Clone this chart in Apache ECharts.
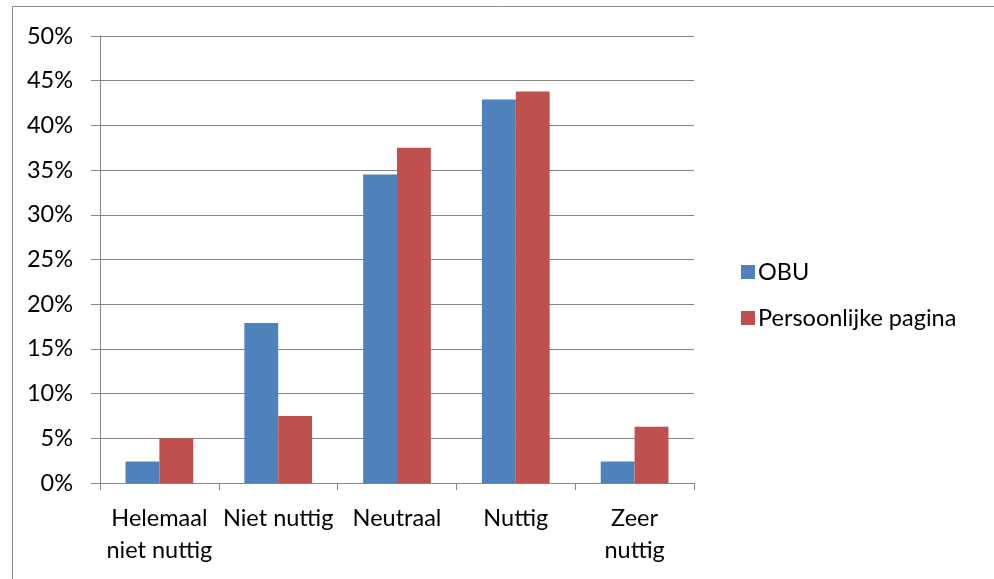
<!DOCTYPE html>
<html>
<head>
<meta charset="utf-8">
<script src="https://cdn.jsdelivr.net/npm/echarts@6/dist/echarts.min.js"></script>
<style>
  html, body { margin: 0; padding: 0; background: #ffffff; }
  #chart { width: 994px; height: 579px; }
</style>
</head>
<body>
<div id="chart"></div>
<script>
// Answer categories (x axis)
const categories = ['Helemaal\nniet nuttig', 'Niet nuttig', 'Neutraal', 'Nuttig', 'Zeer\nnuttig'];
// Share of respondents per answer, in percent
const obuValues = [2.4, 17.9, 34.5, 42.9, 2.4];
const persoonlijkeValues = [5.0, 7.5, 37.5, 43.8, 6.3];
const seriesNames = ['OBU', 'Persoonlijke pagina'];
// Y axis range and step (percent)
const yMin = 0;
const yMax = 50;
const yStep = 5;

const FONT = 'Lato';
const FONT_SIZE = 23.5;
const AXIS_GREY = '#858585';

const chart = echarts.init(document.getElementById('chart'), null, { renderer: 'canvas' });

chart.setOption({
  animation: false,
  backgroundColor: '#ffffff',
  textStyle: { fontFamily: FONT },
  grid: { left: 100, right: 300, top: 36, bottom: 96, containLabel: false },
  legend: {
    orient: 'vertical',
    left: 736,
    top: 255,
    itemWidth: 14,
    itemHeight: 14,
    itemGap: 22,
    icon: 'rect',
    textStyle: { fontFamily: FONT, fontSize: FONT_SIZE, color: '#000000', padding: [0, 0, 0, -2] },
    data: seriesNames
  },
  xAxis: {
    type: 'category',
    data: categories,
    axisLine: { lineStyle: { color: AXIS_GREY, width: 1 } },
    axisTick: { show: true, length: 7, lineStyle: { color: AXIS_GREY } },
    axisLabel: {
      interval: 0,
      margin: 19,
      fontFamily: FONT,
      fontSize: FONT_SIZE,
      lineHeight: 32,
      color: '#000000'
    }
  },
  yAxis: {
    type: 'value',
    min: yMin,
    max: yMax,
    interval: yStep,
    axisLine: { show: true, lineStyle: { color: AXIS_GREY, width: 1 } },
    axisTick: { show: true, length: 9, lineStyle: { color: AXIS_GREY } },
    splitLine: { show: true, lineStyle: { color: AXIS_GREY, width: 1 } },
    axisLabel: {
      margin: 27,
      fontFamily: FONT,
      fontSize: FONT_SIZE,
      color: '#000000',
      formatter: v => v + '%'
    }
  },
  series: [
    {
      name: seriesNames[0],
      type: 'bar',
      data: obuValues,
      barGap: '0%',
      barCategoryGap: '43%',
      itemStyle: { color: '#4F81BD' }
    },
    {
      name: seriesNames[1],
      type: 'bar',
      data: persoonlijkeValues,
      barGap: '0%',
      barCategoryGap: '43%',
      itemStyle: { color: '#C0504D' }
    }
  ],
  graphic: [
    {
      type: 'polyline',
      shape: { points: [[12.5, 579], [12.5, 6.5], [994, 6.5]] },
      style: { stroke: '#8c8c8c', lineWidth: 1, fill: null },
      silent: true
    }
  ]
});
</script>
</body>
</html>
